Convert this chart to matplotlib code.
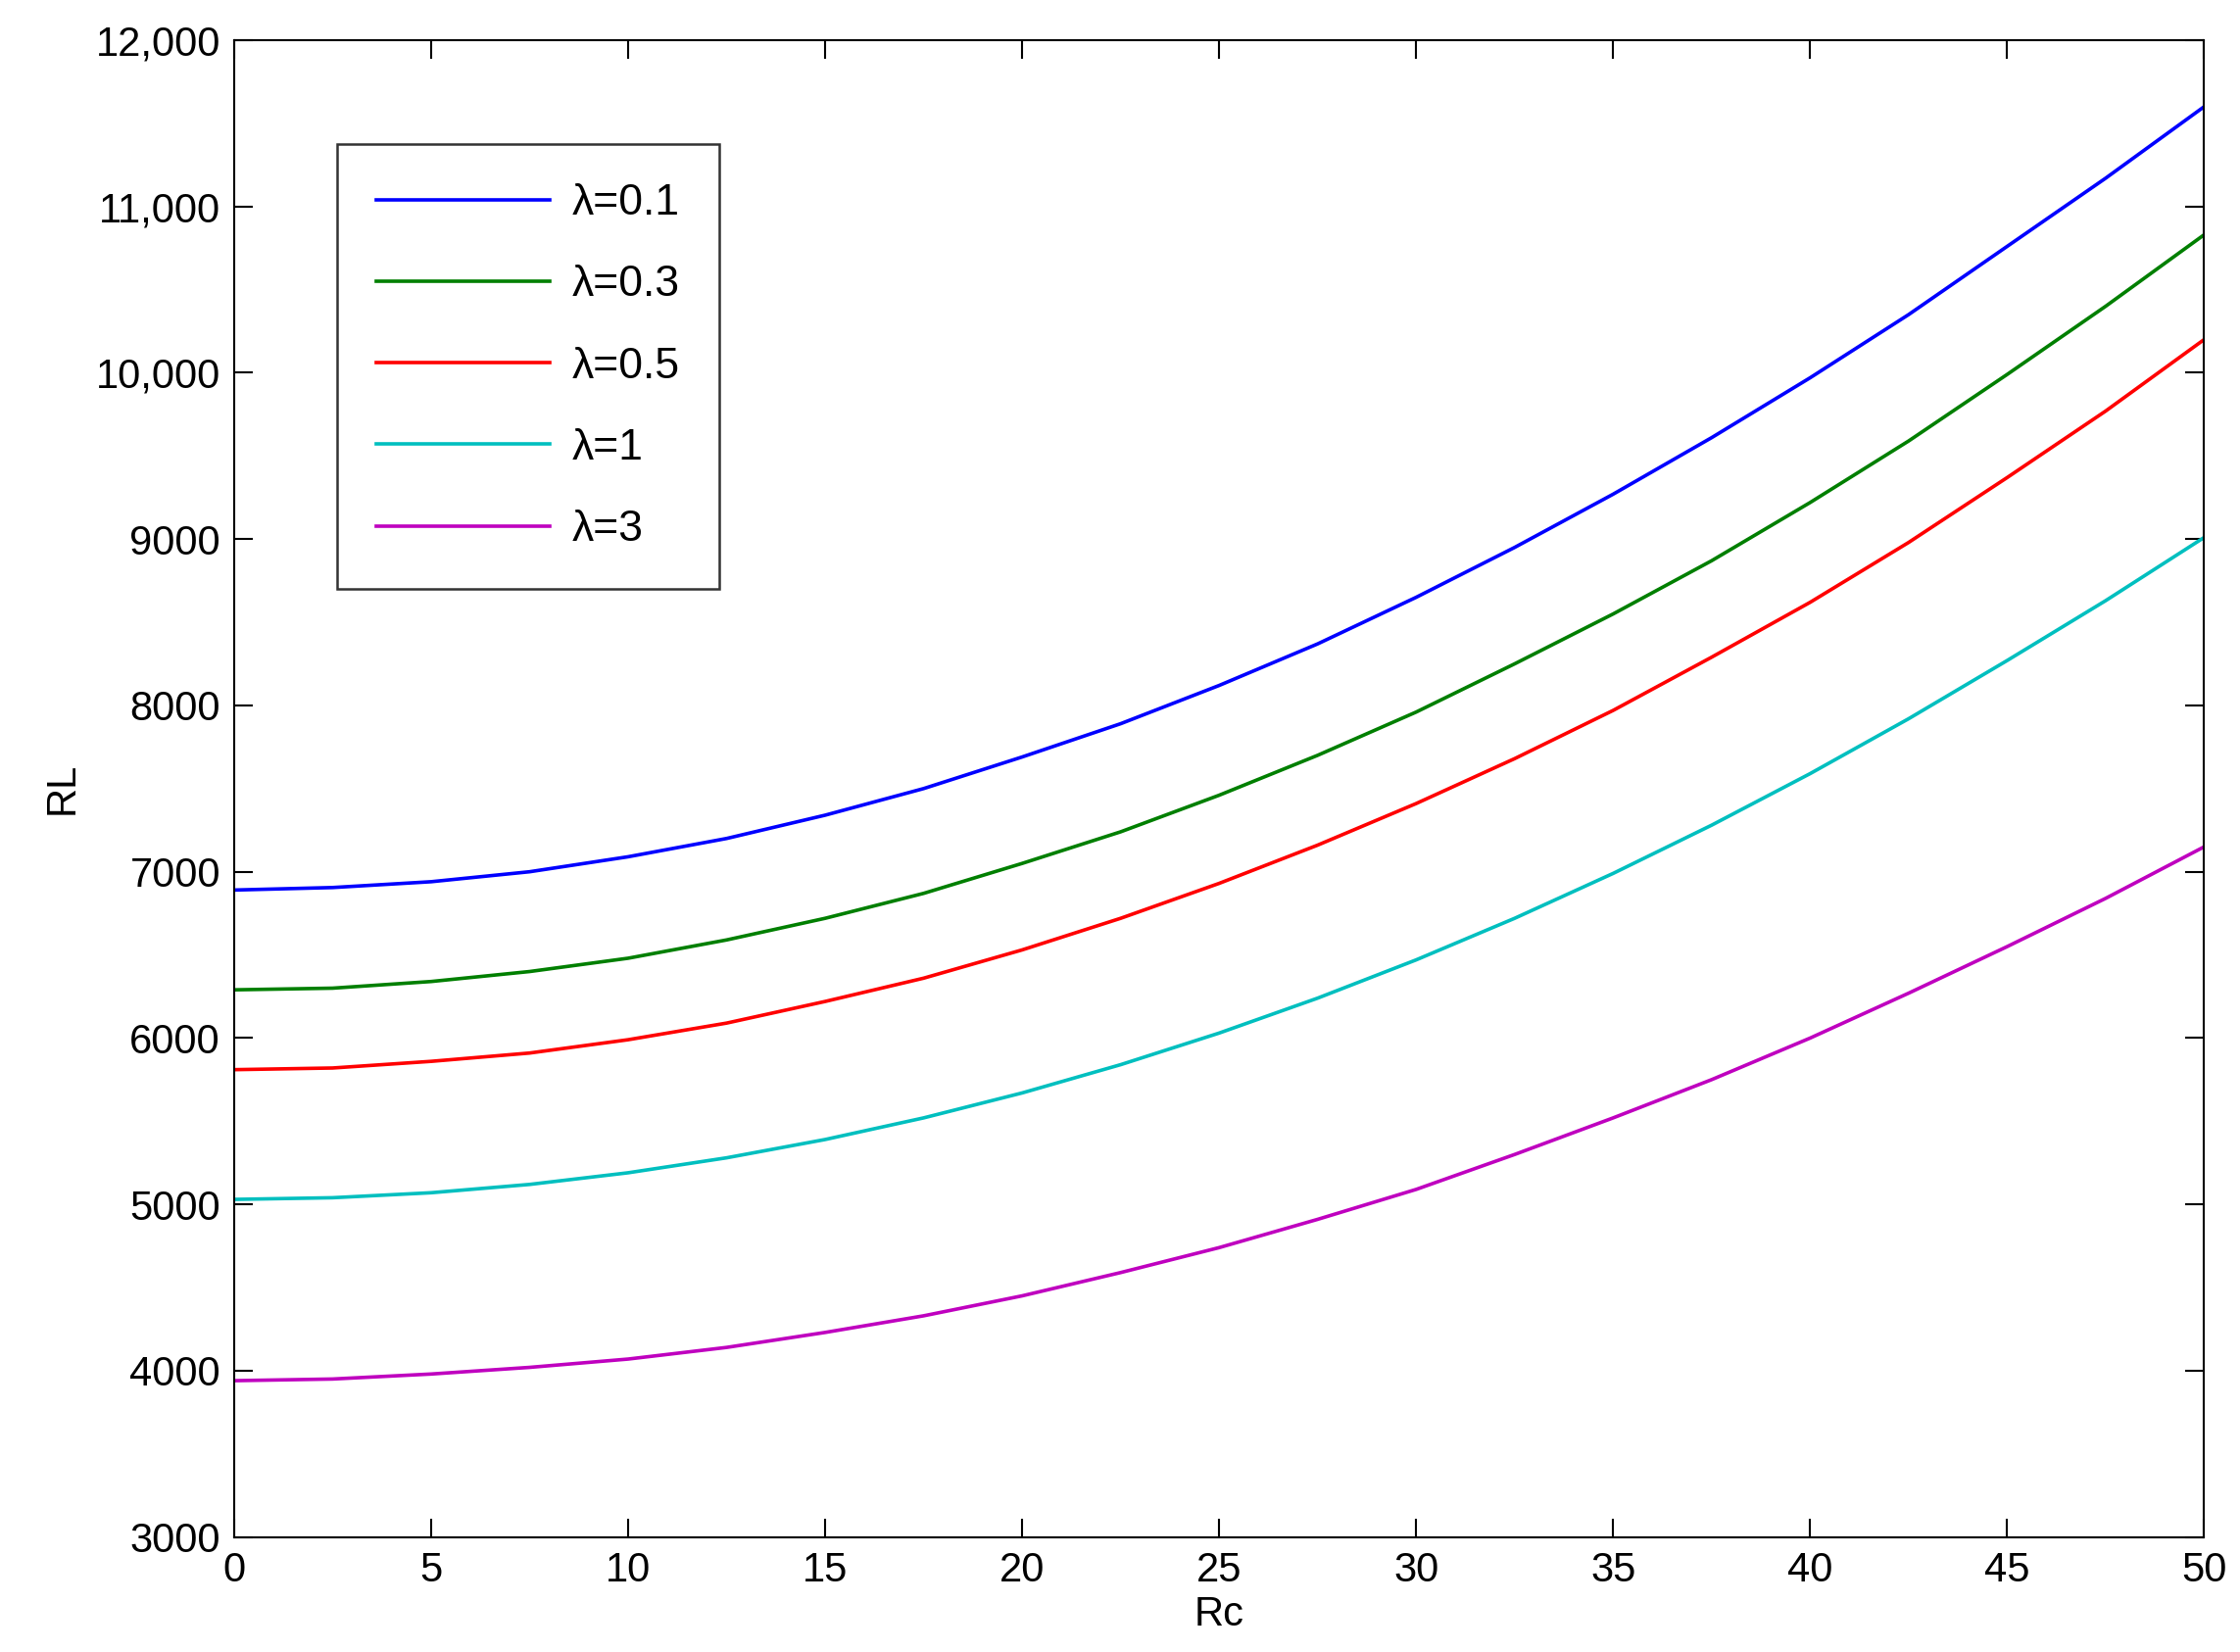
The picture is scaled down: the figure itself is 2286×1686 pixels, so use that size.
import matplotlib
matplotlib.use("Agg")
import matplotlib.pyplot as plt

plt.rcParams['font.family'] = ['Liberation Sans', 'DejaVu Sans']

rc = [0, 2.5, 5, 7.5, 10, 12.5, 15, 17.5, 20, 22.5, 25, 27.5, 30, 32.5, 35, 37.5, 40, 42.5, 45, 47.5, 50]
rl_01 = [6890, 6905, 6940, 7000, 7090, 7200, 7340, 7500, 7690, 7890, 8120, 8370, 8650, 8950, 9270, 9610, 9970, 10350, 10760, 11170, 11600]
rl_03 = [6290, 6300, 6340, 6400, 6480, 6590, 6720, 6870, 7050, 7240, 7460, 7700, 7960, 8250, 8550, 8870, 9220, 9590, 9990, 10400, 10830]
rl_05 = [5810, 5820, 5860, 5910, 5990, 6090, 6220, 6360, 6530, 6720, 6930, 7160, 7410, 7680, 7970, 8290, 8620, 8980, 9370, 9770, 10200]
rl_1 = [5030, 5040, 5070, 5120, 5190, 5280, 5390, 5520, 5670, 5840, 6030, 6240, 6470, 6720, 6990, 7280, 7590, 7920, 8270, 8630, 9010]
rl_3 = [3940, 3950, 3980, 4020, 4070, 4140, 4230, 4330, 4450, 4590, 4740, 4910, 5090, 5300, 5520, 5750, 6000, 6270, 6550, 6840, 7150]
labels = ["λ=0.1", "λ=0.3", "λ=0.5", "λ=1", "λ=3"]
colors = ["#0000ff", "#007f00", "#ff0000", "#00bfbf", "#bf00bf"]
yticks = [3000, 4000, 5000, 6000, 7000, 8000, 9000, 10000, 11000, 12000]
yticklabels = ["3000", "4000", "5000", "6000", "7000", "8000", "9000", "10,000", "11,000", "12,000"]

fig = plt.figure(figsize=(22.86, 16.86), dpi=100)
ax = fig.add_axes([0.1045, 0.0696, 0.8795, 0.9061])
for y, lab, c in zip([rl_01, rl_03, rl_05, rl_1, rl_3], labels, colors):
    ax.plot(rc, y, color=c, lw=2.6, label=lab)
ax.set_xlim(0, 50)
ax.set_ylim(3000, 12000)
ax.set_xticks(range(0, 51, 5))
ax.set_yticks(yticks)
ax.set_yticklabels(yticklabels)
ax.tick_params(direction="in", top=True, right=True, labelsize=30, length=14, width=1.5, pad=10)
for s in ax.spines.values():
    s.set_linewidth(1.5)
ax.set_xlabel("Rc", fontsize=30, labelpad=4)
ax.set_ylabel("RL", fontsize=30, labelpad=10)
leg = ax.legend(loc="upper left", bbox_to_anchor=(0.041, 0.945), fontsize=32, frameon=True,
                fancybox=False, edgecolor="black", handlelength=4.0, labelspacing=0.95,
                borderpad=0.9, handletextpad=0.5)
leg.get_frame().set_linewidth(1.8)
fig.savefig("out.png", dpi=100)
